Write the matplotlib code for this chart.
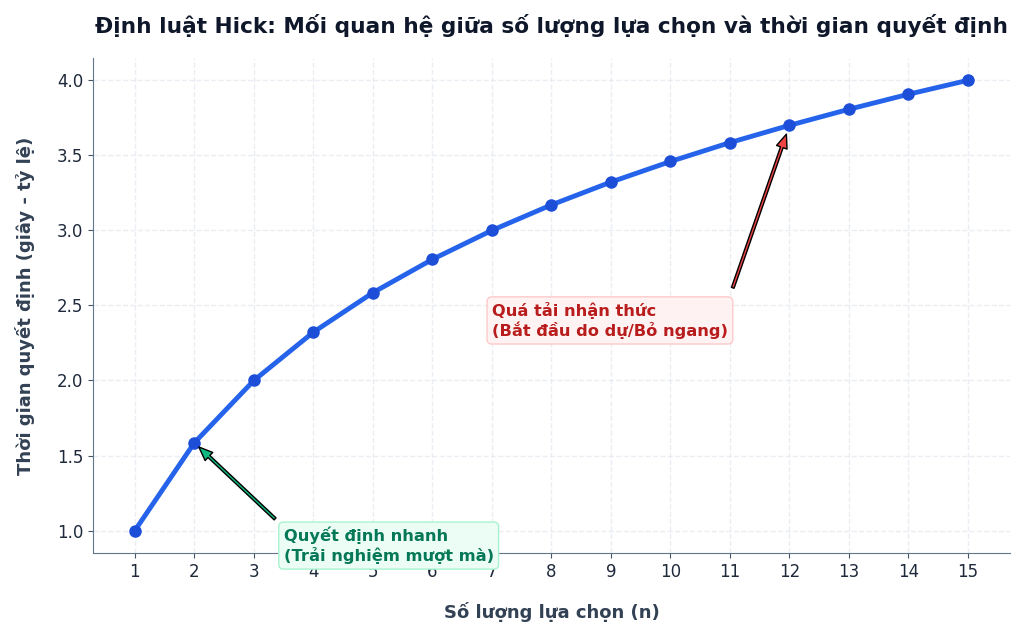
import matplotlib
matplotlib.use("Agg")
import matplotlib.pyplot as plt

n_choices = [1, 2, 3, 4, 5, 6, 7, 8, 9, 10, 11, 12, 13, 14, 15]
decision_time = [1.0, 1.585, 2.0, 2.322, 2.585, 2.807, 3.0, 3.170, 3.322,
                 3.459, 3.585, 3.700, 3.807, 3.907, 4.0]

title = "Định luật Hick: Mối quan hệ giữa số lượng lựa chọn và thời gian quyết định"
xlabel = "Số lượng lựa chọn (n)"
ylabel = "Thời gian quyết định (giây - tỷ lệ)"
fast_label = "Quyết định nhanh\n(Trải nghiệm mượt mà)"
overload_label = "Quá tải nhận thức\n(Bắt đầu do dự/Bỏ ngang)"

plt.rcParams['font.family'] = ['DejaVu Sans']
fig, ax = plt.subplots(figsize=(10.24, 6.35), dpi=100)
fig.subplots_adjust(left=0.091, right=0.986, top=0.909, bottom=0.129)

ax.plot(n_choices, decision_time, color='#2563eb', linewidth=3.5,
        marker='o', markersize=8, markerfacecolor='#1d4ed8',
        markeredgecolor='#1d4ed8', zorder=3)

ax.set_title(title, fontsize=15.6, fontweight='bold', color='#0f172a', pad=18)
ax.set_xlabel(xlabel, fontsize=13, fontweight='bold', color='#334155', labelpad=15)
ax.set_ylabel(ylabel, fontsize=13, fontweight='bold', color='#334155', labelpad=16)
ax.set_xticks(n_choices)
ax.tick_params(axis='both', labelsize=12, colors='#1e293b')
ax.tick_params(axis='both', color='#475569')

ax.grid(True, linestyle='--', color='#e2e8f0', alpha=0.7, linewidth=1)
for s in ['top', 'right']:
    ax.spines[s].set_visible(False)
for s in ['left', 'bottom']:
    ax.spines[s].set_color('#64748b')

ax.annotate(fast_label, xy=(n_choices[1], decision_time[1]), xytext=(3.5, 0.90),
            fontsize=11.7, fontweight='bold', color='#047857', va='center',
            bbox=dict(boxstyle='round,pad=0.3', facecolor='#ecfdf5',
                      edgecolor='#a7f3d0'),
            arrowprops=dict(facecolor='#10b981', edgecolor='black', shrink=0.05,
                            width=2, headwidth=8, headlength=10), zorder=5)

ax.annotate(overload_label, xy=(n_choices[11], decision_time[11]), xytext=(7.0, 2.40),
            fontsize=11.7, fontweight='bold', color='#b91c1c', va='center',
            bbox=dict(boxstyle='round,pad=0.3', facecolor='#fef2f2',
                      edgecolor='#fecaca'),
            arrowprops=dict(facecolor='#ef4444', edgecolor='black', shrink=0.05,
                            width=2, headwidth=8, headlength=10), zorder=5)

fig.savefig("out.png", dpi=100)
